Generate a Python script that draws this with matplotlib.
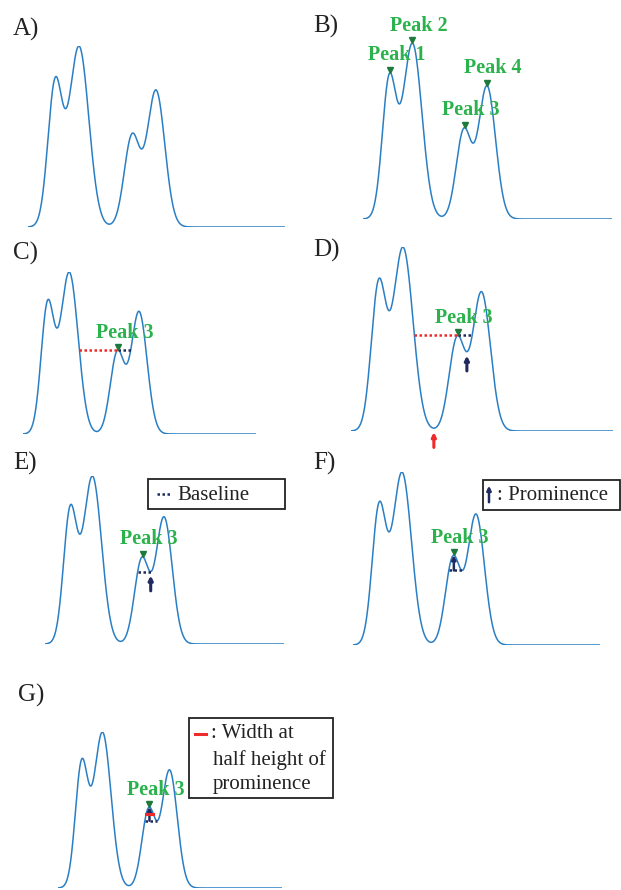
import numpy as np
import matplotlib
matplotlib.use("Agg")
import matplotlib.pyplot as plt
from matplotlib.patches import Rectangle, FancyArrowPatch
from matplotlib.lines import Line2D
from matplotlib.transforms import offset_copy

# signal = sum of 4 gaussian peaks
peak_centers = [27, 51, 104, 128]
peak_heights = [140, 180, 90, 136]
peak_sigmas = [7.2, 9.8, 7.8, 8.8]
x_end = 257

panel_labels = ["A)", "B)", "C)", "D)", "E)", "F)", "G)"]
peak_names = ["Peak 1", "Peak 2", "Peak 3", "Peak 4"]

W, H = 621, 890
CURVE = "#2a7fc4"
GREEN = "#2bb24c"
DGREEN = "#1d7a3c"
NAVY = "#1f2a5e"
RED = "#ee2a2a"
SERIF = "Liberation Serif"

x = np.linspace(0, x_end, 1500)
y = np.zeros_like(x)
for c, a, s in zip(peak_centers, peak_heights, peak_sigmas):
    y += a * np.exp(-(x - c) ** 2 / (2 * s ** 2))

# local maxima
pk = [i for i in range(1, len(y) - 1) if y[i] > y[i - 1] and y[i] >= y[i + 1]]

# prominence analysis of peak 3
p = pk[2]
h = y[p]
i = p - 1
while i > 0 and y[i] <= h:
    i -= 1
left_end = i
j = p + 1
while j < len(y) - 1 and y[j] <= h:
    j += 1
right_end = j
left_min = left_end + np.argmin(y[left_end:p])
right_min = p + np.argmin(y[p:right_end])
base = max(y[left_min], y[right_min])
prom = h - base
k = p
while y[k] > base:
    k -= 1
base_left = k
half = h - prom / 2
k1 = p
while y[k1] > half:
    k1 -= 1
k2 = p
while y[k2] > half:
    k2 += 1

fig = plt.figure(figsize=(W / 100, H / 100), dpi=100)


def fx(px):
    return px / W


def fy(py):
    return 1 - py / H


# panel boxes in pixels: left, right, baseline, top of curve
boxes = [
    (28, 285, 227, 46),
    (363, 612, 219, 43),
    (23, 256, 434, 272),
    (351, 613, 431, 247),
    (45, 284, 644, 476),
    (353, 600, 645, 472),
    (58, 282, 888, 732),
]
label_pos = [(13, 36), (313, 33), (13, 260), (313, 257), (13, 470), (313, 470), (18, 702)]

axes = []
for b, lab, lp in zip(boxes, panel_labels, label_pos):
    l, r, bot, top = b
    ax = fig.add_axes([fx(l), fy(bot), (r - l) / W, (bot - top) / H])
    ax.plot(x, y, color=CURVE, lw=1.1)
    ax.set_xlim(x[0], x[-1])
    ax.set_ylim(0, y.max())
    ax.axis("off")
    fig.text(fx(lp[0]), fy(lp[1]), lab, fontsize=18, family=SERIF,
             color="#222222", va="baseline", ha="left")
    axes.append(ax)


def mark(ax, idx, name):
    tr = offset_copy(ax.transData, fig=fig, y=3, units="dots")
    ax.plot(x[idx], y[idx], marker="v", color=DGREEN, ms=4.5, transform=tr,
            clip_on=False, zorder=5)
    ax.annotate(name, (x[idx], y[idx]), xytext=(4.5, 12.5), textcoords="offset points",
                ha="center", va="center", fontsize=14.5, fontweight="bold",
                family=SERIF, color=GREEN, annotation_clip=False, zorder=4)


def up_arrow(ax, idx, color):
    xy_tr = offset_copy(ax.transData, fig=fig, y=-4, units="dots")
    ax.annotate("", xy=(x[idx], y[idx]), xycoords=xy_tr, xytext=(0, -11),
                textcoords="offset points",
                arrowprops=dict(arrowstyle="-|>", color=color, lw=2.2,
                                mutation_scale=6, shrinkA=0, shrinkB=0),
                annotation_clip=False)


def prom_arrow(ax):
    ax.annotate("", xy=(x[p], h), xytext=(x[p], base),
                arrowprops=dict(arrowstyle="-|>", color=NAVY, lw=1.8,
                                mutation_scale=6, shrinkA=0, shrinkB=0),
                annotation_clip=False, zorder=6)


def base_line(ax):
    ax.plot([x[base_left], x[right_min]], [base, base], ls=(0, (1, 1)),
            color=NAVY, lw=1.8, clip_on=False)


# B)
for n, idx in enumerate(pk):
    mark(axes[1], idx, peak_names[n])

# C)
ax = axes[2]
ax.plot([x[left_end], x[p]], [h, h], ls=(0, (1, 1)), color=RED, lw=1.8)
ax.plot([x[p], x[right_end]], [h, h], ls=(0, (1, 1)), color=NAVY, lw=1.8)
mark(ax, p, "Peak 3")

# D)
ax = axes[3]
ax.plot([x[left_end], x[p]], [h, h], ls=(0, (1, 1)), color=RED, lw=1.8)
ax.plot([x[p], x[right_end]], [h, h], ls=(0, (1, 1)), color=NAVY, lw=1.8)
mark(ax, p, "Peak 3")
up_arrow(ax, left_min, RED)
up_arrow(ax, right_min, NAVY)

# E)
ax = axes[4]
base_line(ax)
mark(ax, p, "Peak 3")
up_arrow(ax, right_min, NAVY)

# F)
ax = axes[5]
base_line(ax)
prom_arrow(ax)
mark(ax, p, "Peak 3")

# G)
ax = axes[6]
base_line(ax)
prom_arrow(ax)
ax.plot([x[k1], x[k2]], [half, half], color=RED, lw=2.2, zorder=7)
mark(ax, p, "Peak 3")


# legend boxes
def box(l, t, r, b):
    fig.add_artist(Rectangle((fx(l), fy(b)), (r - l) / W, (b - t) / H,
                             transform=fig.transFigure, fill=True, fc="white",
                             ec="#222222", lw=1.3))


box(148, 479, 285, 509)
fig.add_artist(Line2D([fx(157), fx(170)], [fy(494), fy(494)], ls=(0, (1, 1)),
                      color=NAVY, lw=1.8, transform=fig.transFigure))
fig.text(fx(177), fy(495), "Baseline", fontsize=15, family=SERIF,
         color="#222222", va="center", ha="left")

box(483, 480, 620, 510)
fig.add_artist(FancyArrowPatch(
    (fx(489), fy(505)), (fx(489), fy(483)), transform=fig.transFigure,
    arrowstyle="-|>", mutation_scale=6, color=NAVY, lw=1.8))
fig.text(fx(497), fy(496), ": Prominence", fontsize=15, family=SERIF,
         color="#222222", va="center", ha="left")

box(189, 718, 333, 798)
fig.add_artist(Line2D([fx(195), fx(206)], [fy(734), fy(734)],
                      color=RED, lw=2.2, transform=fig.transFigure))
for t, yy in zip([": Width at", "half height of", "prominence"], [733, 760, 785]):
    xx = 211 if t.startswith(":") else 213
    fig.text(fx(xx), fy(yy), t, fontsize=15, family=SERIF,
             color="#222222", va="center", ha="left")

fig.savefig("out.png", dpi=100)
